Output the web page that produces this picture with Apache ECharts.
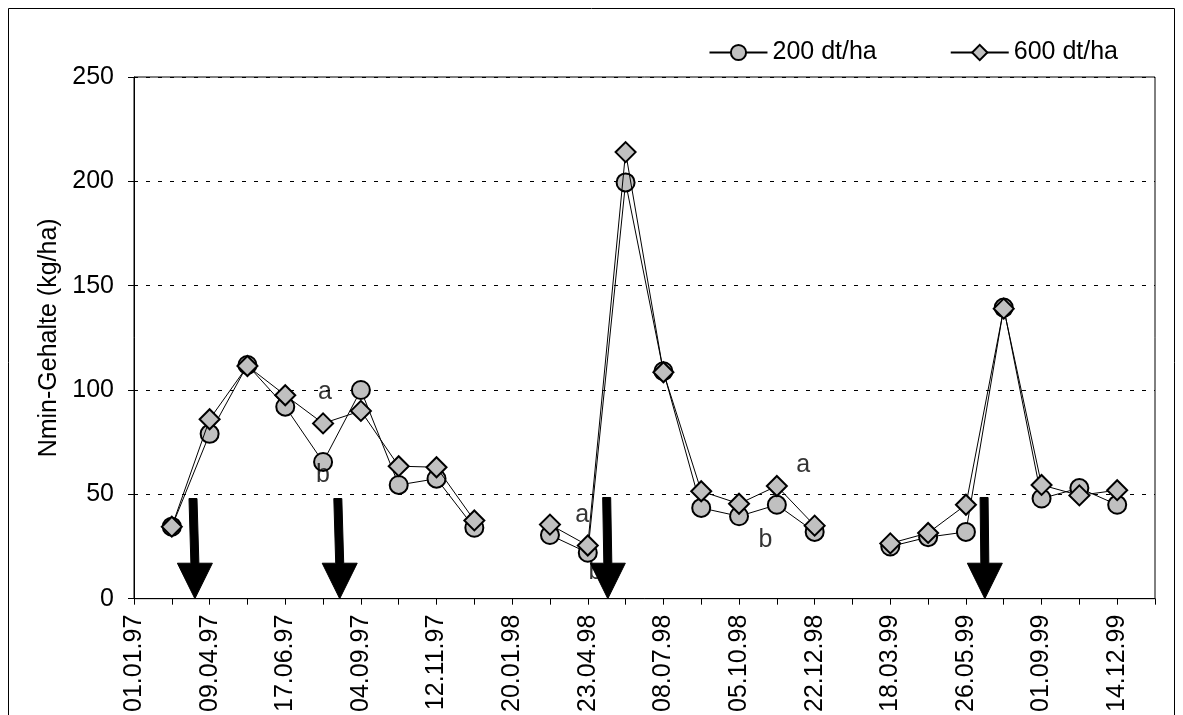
<!DOCTYPE html>
<html>
<head>
<meta charset="utf-8">
<script src="https://cdn.jsdelivr.net/npm/echarts@6/dist/echarts.min.js"></script>
<style>
html,body{margin:0;padding:0;background:#fff;}
#c{width:1183px;height:715px;}
</style>
</head>
<body>
<div id="c"></div>
<script>
// x-axis slots (0..27); labels on every second slot
const tickLabels = ['01.01.97','09.04.97','17.06.97','04.09.97','12.11.97','20.01.98','23.04.98','08.07.98','05.10.98','22.12.98','18.03.99','26.05.99','01.09.99','14.12.99'];
const slotCount = 28;
const seriesNames = ['200 dt/ha', '600 dt/ha'];
const values200 = [null,34.5,79,112,92,65.5,100,54.5,57.5,34,null,30.5,22,199.5,109,43.5,39.5,45,32,null,25,29.5,32,139.5,48,53,45,null];
const values600 = [null,34.5,86,111.5,97.5,84,90,63.5,63,37.5,null,35.5,25.5,214,108.5,51.5,45.5,54,35,null,26.5,31.5,45,139,54.5,49.5,52,null];
// significance letters
const letterText = ['a','b','a','b','a','b'];
const letterX = [5.05, 5.0, 11.85, 12.2, 17.7, 16.7];
const letterY = [99, 59, 40, 12.5, 64, 28];
// fertilisation arrows (tip slot, top slot, shaft top value, head top value)
const arrowTipX = [1.61, 5.44, 12.53, 22.5];
const arrowTopX = [1.56, 5.39, 12.50, 22.48];
const arrowTopY = [48, 48, 48.5, 48.5];
const arrowHeadY = [17, 17, 17, 17];

const FONT = 'Liberation Sans, Arial, sans-serif';
const FS = 25;
const pairs = arr => arr.map((v, i) => [i, v]);

const chart = echarts.init(document.getElementById('c'), null, {renderer: 'canvas'});
chart.setOption({
  animation: false,
  backgroundColor: '#fff',
  textStyle: {fontFamily: FONT, color: '#000'},
  graphic: [{
    type: 'rect', shape: {x: 8.5, y: 8.5, width: 1166, height: 730},
    style: {fill: 'none', stroke: '#000', lineWidth: 1}, silent: true, z: -10
  }],
  legend: {
    right: 60, top: 35, itemWidth: 58, itemHeight: 19, itemGap: 73,
    textStyle: {fontFamily: FONT, fontSize: FS, color: '#000'},
    data: seriesNames
  },
  grid: {left: 134, right: 28, top: 77, bottom: 116, show: true, borderColor: '#000', borderWidth: 1},
  xAxis: {
    type: 'value', min: 0, max: slotCount - 1, interval: 1,
    axisLine: {lineStyle: {color: '#000', width: 1}},
    axisTick: {show: true, length: 6, lineStyle: {color: '#000'}},
    splitLine: {show: false},
    axisLabel: {
      rotate: 90, margin: 16, fontSize: FS, fontFamily: FONT, color: '#000',
      showMinLabel: true, showMaxLabel: true,
      formatter: v => (v % 2 === 0 && tickLabels[v / 2] !== undefined) ? tickLabels[v / 2] : ''
    }
  },
  yAxis: {
    type: 'value', min: 0, max: 250, interval: 50,
    name: 'Nmin-Gehalte (kg/ha)', nameLocation: 'middle', nameGap: 72,
    nameTextStyle: {fontSize: FS, fontFamily: FONT, color: '#000'},
    axisLine: {show: true, lineStyle: {color: '#000', width: 1}},
    axisTick: {show: true, length: 6, lineStyle: {color: '#000'}},
    axisLabel: {margin: 20, fontSize: FS, fontFamily: FONT, color: '#000'},
    splitLine: {show: true, lineStyle: {color: '#000', width: 1, type: [4, 8]}}
  },
  series: [
    {
      name: seriesNames[0], type: 'line', data: pairs(values200), connectNulls: false,
      symbol: 'circle', symbolSize: 18, showAllSymbol: true,
      lineStyle: {color: '#000', width: 1},
      itemStyle: {color: '#c0c0c0', borderColor: '#000', borderWidth: 2},
      z: 3
    },
    {
      name: seriesNames[1], type: 'line', data: pairs(values600), connectNulls: false,
      symbol: 'diamond', symbolSize: 20, showAllSymbol: true,
      lineStyle: {color: '#000', width: 1},
      itemStyle: {color: '#c0c0c0', borderColor: '#000', borderWidth: 2},
      z: 4
    },
    {
      name: 'letters', type: 'scatter', symbolSize: 0, silent: true, z: 5,
      data: letterText.map((t, i) => ({name: t, value: [letterX[i], letterY[i]]})),
      label: {show: true, position: 'inside', formatter: p => p.name, fontSize: FS, fontFamily: FONT, color: '#000'}
    },
    {
      name: 'arrows', type: 'custom', silent: true, z: 6,
      data: arrowTipX.map((x, i) => [x, arrowTopX[i], arrowTopY[i], arrowHeadY[i]]),
      renderItem: (params, api) => {
        const tip = api.coord([api.value(0), 0]);
        const top = api.coord([api.value(1), api.value(2)]);
        const head = api.coord([api.value(0), api.value(3)]);
        const sw = 4, hw = 17.5;
        return {
          type: 'polygon',
          shape: {points: [
            [top[0] - sw, top[1]], [top[0] + sw, top[1]],
            [head[0] + sw, head[1]], [head[0] + hw, head[1]],
            [tip[0], tip[1]],
            [head[0] - hw, head[1]], [head[0] - sw, head[1]]
          ]},
          style: {fill: '#000', stroke: '#000', lineWidth: 1}
        };
      }
    }
  ]
});
</script>
</body>
</html>
